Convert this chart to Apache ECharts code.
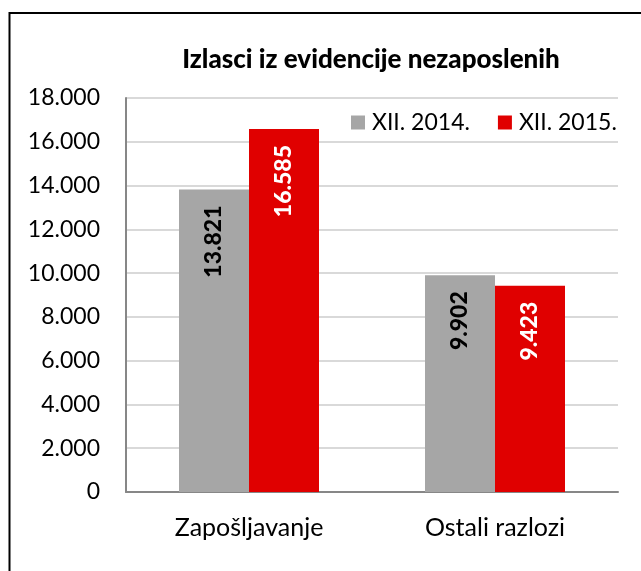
<!DOCTYPE html>
<html>
<head>
<meta charset="utf-8">
<script src="https://cdn.jsdelivr.net/npm/echarts@6/dist/echarts.min.js"></script>
<style>
html,body{margin:0;padding:0;background:#fff;}
#chart{width:641px;height:571px;}
</style>
</head>
<body>
<div id="chart"></div>
<script>
const titleText = 'Izlasci iz evidencije nezaposlenih';
const categories = ['Zapošljavanje', 'Ostali razlozi'];
const seriesNames = ['XII. 2014.', 'XII. 2015.'];
const values2014 = [13821, 9902];
const values2015 = [16585, 9423];
const yMin = 0, yMax = 18000, yStep = 2000;

const FONT = 'Lato';
const fmt = v => String(v).replace(/\B(?=(\d{3})+(?!\d))/g, '.');

const chart = echarts.init(document.getElementById('chart'), null, {renderer: 'canvas'});
chart.setOption({
  backgroundColor: '#fff',
  animation: false,
  textStyle: {fontFamily: FONT},
  title: {
    text: titleText,
    left: 366,
    top: 42,
    textAlign: 'center',
    textStyle: {fontFamily: FONT, fontWeight: 900, fontSize: 26, color: '#000'}
  },
  legend: {
    data: seriesNames,
    left: 346,
    top: 106,
    itemWidth: 14,
    itemHeight: 14,
    itemGap: 28,
    icon: 'rect',
    textStyle: {fontFamily: FONT, fontSize: 23, color: '#000', padding: [0, 0, 0, 2]}
  },
  graphic: [{
    type: 'rect',
    shape: {x: 9.5, y: 13, width: 800, height: 800},
    style: {fill: 'none', stroke: '#000', lineWidth: 2},
    silent: true, z: 100
  }],
  grid: {left: 126, right: 23, top: 98, bottom: 79, containLabel: false},
  xAxis: {
    type: 'category',
    data: categories,
    axisLine: {show: true, lineStyle: {color: '#878787', width: 2}},
    axisTick: {show: false},
    axisLabel: {fontFamily: FONT, fontSize: 25, color: '#000', margin: 23}
  },
  yAxis: {
    type: 'value',
    min: yMin, max: yMax, interval: yStep,
    axisLine: {show: true, lineStyle: {color: '#878787', width: 2}},
    axisTick: {show: false},
    splitLine: {show: true, lineStyle: {color: '#d9d9d9', width: 2}},
    axisLabel: {fontFamily: FONT, fontSize: 23, color: '#000', margin: 26, formatter: v => fmt(v)}
  },
  series: [
    {
      name: seriesNames[0], type: 'bar', data: values2014,
      barWidth: 70, barGap: '0%',
      itemStyle: {color: '#a6a6a6'},
      label: {
        show: true, position: 'insideTop', rotate: 90, align: 'right', verticalAlign: 'middle',
        distance: 16, fontFamily: FONT, fontWeight: 900, fontSize: 23, color: '#000',
        formatter: p => fmt(p.value)
      }
    },
    {
      name: seriesNames[1], type: 'bar', data: values2015,
      barWidth: 70, barGap: '0%',
      itemStyle: {color: '#e00000'},
      label: {
        show: true, position: 'insideTop', rotate: 90, align: 'right', verticalAlign: 'middle',
        distance: 16, fontFamily: FONT, fontWeight: 900, fontSize: 23, color: '#fff',
        formatter: p => fmt(p.value)
      }
    }
  ]
});
</script>
</body>
</html>
